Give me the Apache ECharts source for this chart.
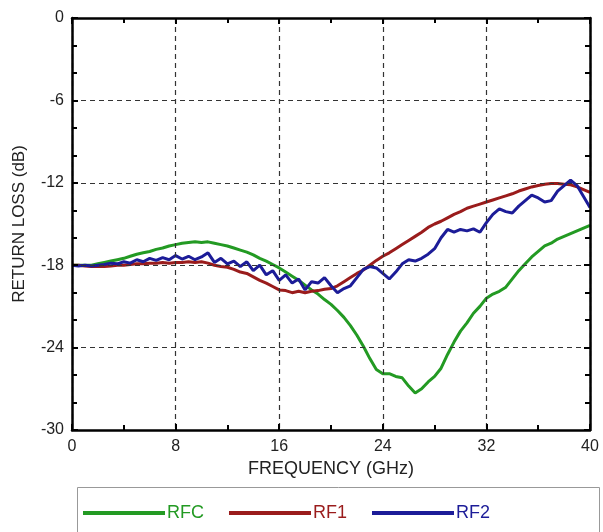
<!DOCTYPE html>
<html>
<head>
<meta charset="utf-8">
<script src="https://cdn.jsdelivr.net/npm/echarts@6/dist/echarts.min.js"></script>
<style>
  html, body { margin: 0; padding: 0; background: #fff; }
  #chart { width: 603px; height: 532px; }
</style>
</head>
<body>
<div id="chart"></div>
<script>
// frequency points (GHz), 0.5 GHz step
var freq = [];
for (var i = 0; i <= 80; i++) freq.push(i * 0.5);

// return loss (dB)
var rfc = [
  -18.0, -18.0, -18.0, -18.0, -17.9, -17.8, -17.7, -17.6, -17.5, -17.35,
  -17.2, -17.1, -17.0, -16.85, -16.75, -16.6, -16.5, -16.4, -16.35, -16.3,
  -16.35, -16.3, -16.4, -16.5, -16.6, -16.75, -16.9, -17.05, -17.25, -17.5,
  -17.7, -17.95, -18.2, -18.5, -18.8, -19.1, -19.45, -19.8, -20.1, -20.5,
  -20.85, -21.3, -21.8, -22.4, -23.1, -23.9, -24.8, -25.6, -25.9, -25.9,
  -26.1, -26.2, -26.8, -27.3, -27.0, -26.5, -26.1, -25.5, -24.5, -23.6,
  -22.8, -22.2, -21.5, -21.0, -20.4, -20.1, -19.9, -19.6, -19.0, -18.4,
  -17.9, -17.4, -17.0, -16.6, -16.4, -16.1, -15.9, -15.7, -15.5, -15.3,
  -15.1
];
var rf1 = [
  -18.0, -18.0, -18.05, -18.1, -18.1, -18.1, -18.05, -18.0, -18.0, -17.95,
  -17.9, -17.9, -17.85, -17.85, -17.8, -17.85, -17.8, -17.8, -17.75, -17.8,
  -17.75, -17.85, -18.0, -18.1, -18.15, -18.3, -18.5, -18.6, -18.85, -19.1,
  -19.3, -19.55, -19.8, -19.85, -20.0, -19.9, -20.0, -19.9, -19.85, -19.75,
  -19.7, -19.5, -19.2, -18.9, -18.6, -18.35, -18.0, -17.65, -17.35, -17.1,
  -16.8, -16.5, -16.2, -15.9, -15.6, -15.25, -15.0, -14.8, -14.55, -14.3,
  -14.1, -13.85, -13.7, -13.55, -13.4, -13.25, -13.1, -12.95, -12.8, -12.6,
  -12.45, -12.3, -12.2, -12.1, -12.05, -12.05, -12.1, -12.15, -12.3, -12.5,
  -12.7
];
var rf2 = [
  -18.0, -18.05, -18.0, -18.05, -18.0, -17.95, -17.85, -17.9, -17.75, -17.85,
  -17.6, -17.75, -17.5, -17.65, -17.45, -17.6, -17.3, -17.55, -17.35, -17.6,
  -17.4, -17.1, -17.8, -17.5, -17.9, -17.7, -18.1, -17.75, -18.4, -18.0,
  -18.7, -18.4, -19.1, -18.7, -19.3, -19.0, -19.8, -19.2, -19.3, -18.9,
  -19.5, -20.0, -19.7, -19.5, -18.9, -18.3, -18.1, -18.2, -18.6, -19.0,
  -18.5, -17.9, -17.6, -17.7, -17.5, -17.2, -16.8, -16.0, -15.4, -15.6,
  -15.4, -15.5, -15.35, -15.6, -14.9, -14.3, -13.9, -14.1, -14.2, -13.7,
  -13.3, -12.9, -13.1, -13.4, -13.3, -12.6, -12.2, -11.8, -12.2, -13.0,
  -13.8
];

var seriesNames = ['RFC', 'RF1', 'RF2'];
var seriesColors = ['#239a23', '#9a1c1c', '#1c1c98'];
var seriesData = [rfc, rf1, rf2];

var font = 'Liberation Sans, Arial, sans-serif';

function pairs(ys) {
  return ys.map(function (y, i) { return [freq[i], y]; });
}

var chart = echarts.init(document.getElementById('chart'));

function boxAxis(min, max, interval, minorSplit) {
  return {
    type: 'value', min: min, max: max, interval: interval,
    axisLine: { show: true, onZero: false, lineStyle: { color: '#000', width: 2.5 } },
    axisTick: { show: true, inside: true, length: 6, lineStyle: { color: '#000', width: 2 } },
    minorTick: { show: true, splitNumber: minorSplit, length: 5, lineStyle: { color: '#000', width: 2 } },
    z: 10
  };
}

option = {
  backgroundColor: '#fff',
  animation: false,
  grid: { left: 72, top: 18, right: 13, bottom: 102 },
  xAxis: [
    Object.assign(boxAxis(0, 40, 8, 2), {
      position: 'bottom',
      name: 'FREQUENCY (GHz)',
      nameLocation: 'middle',
      nameGap: 28,
      nameTextStyle: { fontFamily: font, fontSize: 18, color: '#222' },
      axisLabel: { margin: 9, fontFamily: font, fontSize: 16, color: '#222' },
      splitLine: { show: true, lineStyle: { color: '#333', width: 1.2, type: [5, 4] } }
    }),
    Object.assign(boxAxis(0, 40, 8, 2), {
      position: 'top',
      axisLabel: { show: false },
      splitLine: { show: false }
    })
  ],
  yAxis: [
    Object.assign(boxAxis(-30, 0, 6, 3), {
      position: 'left',
      name: 'RETURN LOSS (dB)',
      nameLocation: 'middle',
      nameGap: 44,
      nameTextStyle: { fontFamily: font, fontSize: 17, color: '#222' },
      axisLabel: { margin: 8, fontFamily: font, fontSize: 16, color: '#222' },
      splitLine: { show: true, lineStyle: { color: '#333', width: 1.2, type: [5, 4] } }
    }),
    Object.assign(boxAxis(-30, 0, 6, 3), {
      position: 'right',
      axisLabel: { show: false },
      splitLine: { show: false }
    })
  ],
  legend: {
    left: 78,
    top: 499,
    itemWidth: 82,
    itemHeight: 4,
    itemGap: 25,
    icon: 'rect',
    textStyle: { fontFamily: font, fontSize: 18, padding: [0, 0, 0, -3] },
    data: seriesNames.map(function (n, i) {
      return { name: n, textStyle: { color: seriesColors[i] } };
    })
  },
  graphic: [{
    type: 'rect',
    z: -1,
    shape: { x: 77.5, y: 487.5, width: 522, height: 60 },
    style: { fill: '#fff', stroke: '#999', lineWidth: 1 }
  }],
  series: seriesNames.map(function (n, i) {
    return {
      name: n,
      type: 'line',
      xAxisIndex: 0,
      yAxisIndex: 0,
      showSymbol: false,
      color: seriesColors[i],
      lineStyle: { width: 3, color: seriesColors[i] },
      data: pairs(seriesData[i])
    };
  })
};

chart.setOption(option);
</script>
</body>
</html>
